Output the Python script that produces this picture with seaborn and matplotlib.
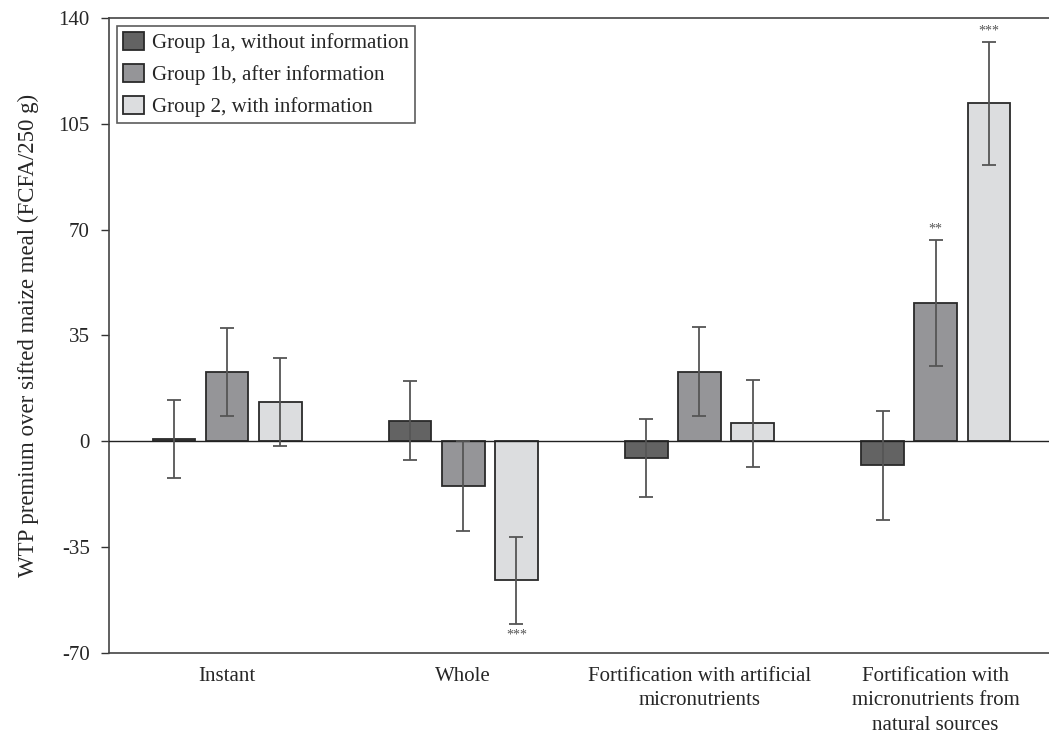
import pandas as pd
import numpy as np
import seaborn as sns
import matplotlib.pyplot as plt

# categories and groups
categories = ['Instant', 'Whole', 'Fortification with artificial\nmicronutrients',
              'Fortification with\nmicronutrients from\nnatural sources']
groups = ['Group 1a, without information', 'Group 1b, after information', 'Group 2, with information']

# mean WTP premium (FCFA/250 g) per group, in category order
g1a = [0.7, 6.8, -5.5, -8.0]
g1b = [23.0, -14.7, 23.0, 45.7]
g2 = [13.0, -46.0, 6.0, 111.8]

# half-width of error bars
g1a_err = [13.0, 13.0, 13.0, 18.0]
g1b_err = [14.5, 14.8, 14.7, 20.8]
g2_err = [14.4, 14.4, 14.4, 20.3]

# significance stars
g1a_sig = ['', '', '', '']
g1b_sig = ['', '', '', '**']
g2_sig = ['', '***', '', '***']

colors = ['#636363', '#959598', '#dcdddf']

df = pd.DataFrame({
    'category': categories * 3,
    'group': [groups[0]] * 4 + [groups[1]] * 4 + [groups[2]] * 4,
    'value': g1a + g1b + g2,
})
errs = [g1a_err, g1b_err, g2_err]
sigs = [g1a_sig, g1b_sig, g2_sig]

sns.set_style('ticks')
plt.rcParams['font.family'] = ['Liberation Serif', 'DejaVu Serif']
plt.rcParams['axes.unicode_minus'] = False

fig = plt.figure(figsize=(10.49, 7.35), dpi=100)
ax = fig.add_axes([0.104, 0.1116, 0.896, 0.864])

sns.barplot(data=df, x='category', y='value', hue='group', palette=colors,
            width=0.675, gap=0.2, edgecolor='#2a2a2a', linewidth=1.3,
            errorbar=None, ax=ax, saturation=1)

# error bars and stars from the bar patches
for cont, err, sig in zip(ax.containers, errs, sigs):
    for bar, e, s in zip(cont, err, sig):
        xc = bar.get_x() + bar.get_width() / 2
        val = bar.get_y() + bar.get_height()
        ax.errorbar(xc, val, yerr=e, color='#555555', capsize=5, elinewidth=1.3,
                    capthick=1.3, zorder=5)
        if s:
            if val >= 0:
                ax.annotate(s, (xc, val + e), xytext=(0, 3), textcoords='offset points',
                            ha='center', va='bottom', fontsize=10, color='#555555')
            else:
                ax.annotate(s, (xc, val - e), xytext=(0, -3), textcoords='offset points',
                            ha='center', va='top', fontsize=10, color='#555555')

ax.axhline(0, color='#222222', linewidth=1, zorder=4)

ax.set_ylim(-70, 140)
ax.set_xlim(-0.5, 3.48)
ax.set_yticks([-70, -35, 0, 35, 70, 105, 140])
ax.set_xlabel('')
ax.set_ylabel('WTP premium over sifted maize meal (FCFA/250 g)', fontsize=16.5, labelpad=14)
ax.tick_params(axis='y', labelsize=15, length=6, width=1, color='#333333', pad=8)
ax.tick_params(axis='x', labelsize=15, length=0, pad=10)
for lbl in ax.get_xticklabels():
    lbl.set_linespacing(1.4)

for side in ['left', 'top', 'bottom']:
    ax.spines[side].set_color('#444444')
    ax.spines[side].set_linewidth(1.2)
ax.spines['right'].set_visible(False)

leg = ax.legend(loc='upper left', bbox_to_anchor=(0.008, 0.988), fontsize=15,
                frameon=True, fancybox=False, edgecolor='#333333',
                handlelength=1.0, handleheight=1.0, handletextpad=0.4,
                labelspacing=0.5, borderpad=0.3, borderaxespad=0)
leg.get_frame().set_linewidth(1.2)

fig.savefig('out.png', dpi=100)
